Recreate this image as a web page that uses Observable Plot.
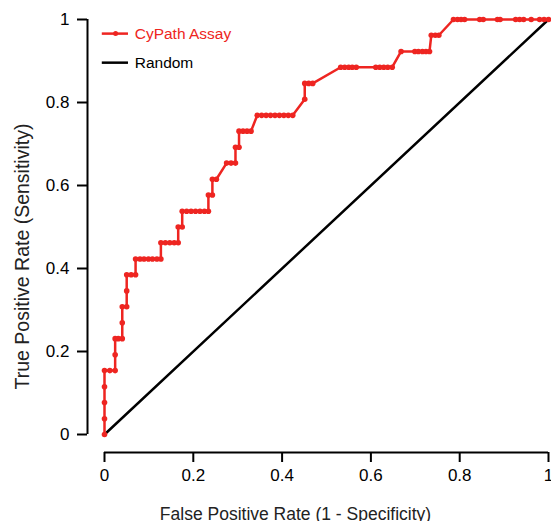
<!DOCTYPE html>
<html><head><meta charset="utf-8">
<script src="https://cdn.jsdelivr.net/npm/d3@7"></script>
<script src="https://cdn.jsdelivr.net/npm/@observablehq/plot@0.6"></script>
<style>body{margin:0;background:#fff;font-family:"Liberation Sans",Arial,sans-serif}</style>
</head><body><div id="chart"></div>
<script>
// ROC curve of the CyPath Assay (false positive rate, true positive rate)
const fpr = [0,0,0,0,0,0.012,0.024,0.024,0.024,0.031,0.040,0.040,0.040,0.050,0.050,0.050,0.060,0.070,0.070,0.080,0.089,0.099,0.108,0.118,0.127,0.127,0.137,0.147,0.157,0.166,0.166,0.175,0.175,0.185,0.195,0.205,0.215,0.225,0.234,0.234,0.243,0.243,0.252,0.275,0.285,0.295,0.295,0.303,0.303,0.312,0.321,0.330,0.344,0.354,0.364,0.374,0.384,0.394,0.404,0.414,0.424,0.451,0.451,0.460,0.469,0.532,0.541,0.550,0.558,0.567,0.611,0.620,0.629,0.638,0.648,0.668,0.699,0.707,0.716,0.724,0.732,0.736,0.745,0.753,0.786,0.795,0.803,0.811,0.845,0.853,0.885,0.891,0.926,0.935,0.944,0.961,0.980,0.990,1];
const tpr = [0,0.038,0.077,0.115,0.154,0.154,0.154,0.192,0.231,0.231,0.231,0.269,0.308,0.308,0.346,0.385,0.385,0.385,0.423,0.423,0.423,0.423,0.423,0.423,0.423,0.462,0.462,0.462,0.462,0.462,0.5,0.5,0.538,0.538,0.538,0.538,0.538,0.538,0.538,0.577,0.577,0.615,0.615,0.654,0.654,0.654,0.692,0.692,0.731,0.731,0.731,0.731,0.769,0.769,0.769,0.769,0.769,0.769,0.769,0.769,0.769,0.808,0.846,0.846,0.846,0.885,0.885,0.885,0.885,0.885,0.885,0.885,0.885,0.885,0.885,0.923,0.923,0.923,0.923,0.923,0.923,0.962,0.962,0.962,1,1,1,1,1,1,1,1,1,1,1,1,1,1,1];
// Random classifier reference line
const randomX = [0, 1];
const randomY = [0, 1];
const xTicks = [0, 0.2, 0.4, 0.6, 0.8, 1];
const yTicks = [0, 0.2, 0.4, 0.6, 0.8, 1];
const seriesNames = ["CyPath Assay", "Random"];
const seriesColors = ["#ee2521", "#000000"];
const xLabel = "False Positive Rate (1 - Specificity)";
const yLabel = "True Positive Rate (Sensitivity)";

const roc = fpr.map((x, i) => ({x, y: tpr[i]}));
const rnd = randomX.map((x, i) => ({x, y: randomY[i]}));
const font = "Liberation Sans, Arial, sans-serif";
const fmt = d => String(d);

const chart = Plot.plot({
  width: 551,
  height: 521,
  marginLeft: 104,
  marginRight: 3,
  marginTop: 19,
  marginBottom: 87,
  style: {fontFamily: font, background: "#fff"},
  x: {domain: [0, 1]},
  y: {domain: [0, 1]},
  marks: [
    // axes (R-style, offset from plot region)
    Plot.ruleY([0], {x1: 0, x2: 1, dy: 18, stroke: "#000", strokeWidth: 2}),
    Plot.ruleX([0], {y1: 0, y2: 1, dx: -17, stroke: "#000", strokeWidth: 2}),
    Plot.axisX(xTicks, {tickSize: 10, dy: 18, tickPadding: 6, fontSize: 17, tickFormat: fmt, strokeWidth: 2, stroke: "#000", color: "#000", label: null}),
    Plot.axisY(yTicks, {tickSize: 10, dx: -17, tickPadding: 8, fontSize: 17, tickFormat: fmt, strokeWidth: 2, stroke: "#000", color: "#000", label: null}),
    Plot.text([xLabel], {text: d => d, frameAnchor: "bottom", textAnchor: "middle", lineAnchor: "middle", dx: -31, dy: 79.5, fontSize: 17.5, fill: "#222"}),
    Plot.text([yLabel], {text: d => d, frameAnchor: "left", textAnchor: "middle", lineAnchor: "middle", rotate: -90, dx: -82, dy: 29.5, fontSize: 19.5, fill: "#222"}),
    // data
    Plot.line(rnd, {x: "x", y: "y", stroke: seriesColors[1], strokeWidth: 2.5}),
    Plot.line(roc, {x: "x", y: "y", stroke: seriesColors[0], strokeWidth: 2.5}),
    Plot.dot(roc, {x: "x", y: "y", r: 2.8, fill: seriesColors[0]}),
    // legend
    Plot.ruleY([0.966], {x1: -0.005, x2: 0.054, stroke: seriesColors[0], strokeWidth: 2.5}),
    Plot.dot([0.025], {x: d => d, y: 0.966, r: 2.5, fill: seriesColors[0]}),
    Plot.text([seriesNames[0]], {text: d => d, x: 0.068, y: 0.966, textAnchor: "start", fontSize: 15.5, fill: seriesColors[0]}),
    Plot.ruleY([0.896], {x1: -0.005, x2: 0.054, stroke: seriesColors[1], strokeWidth: 2.5}),
    Plot.text([seriesNames[1]], {text: d => d, x: 0.068, y: 0.896, textAnchor: "start", fontSize: 15.5, fill: "#000"})
  ]
});
document.getElementById("chart").appendChild(chart);
</script>
</body></html>
